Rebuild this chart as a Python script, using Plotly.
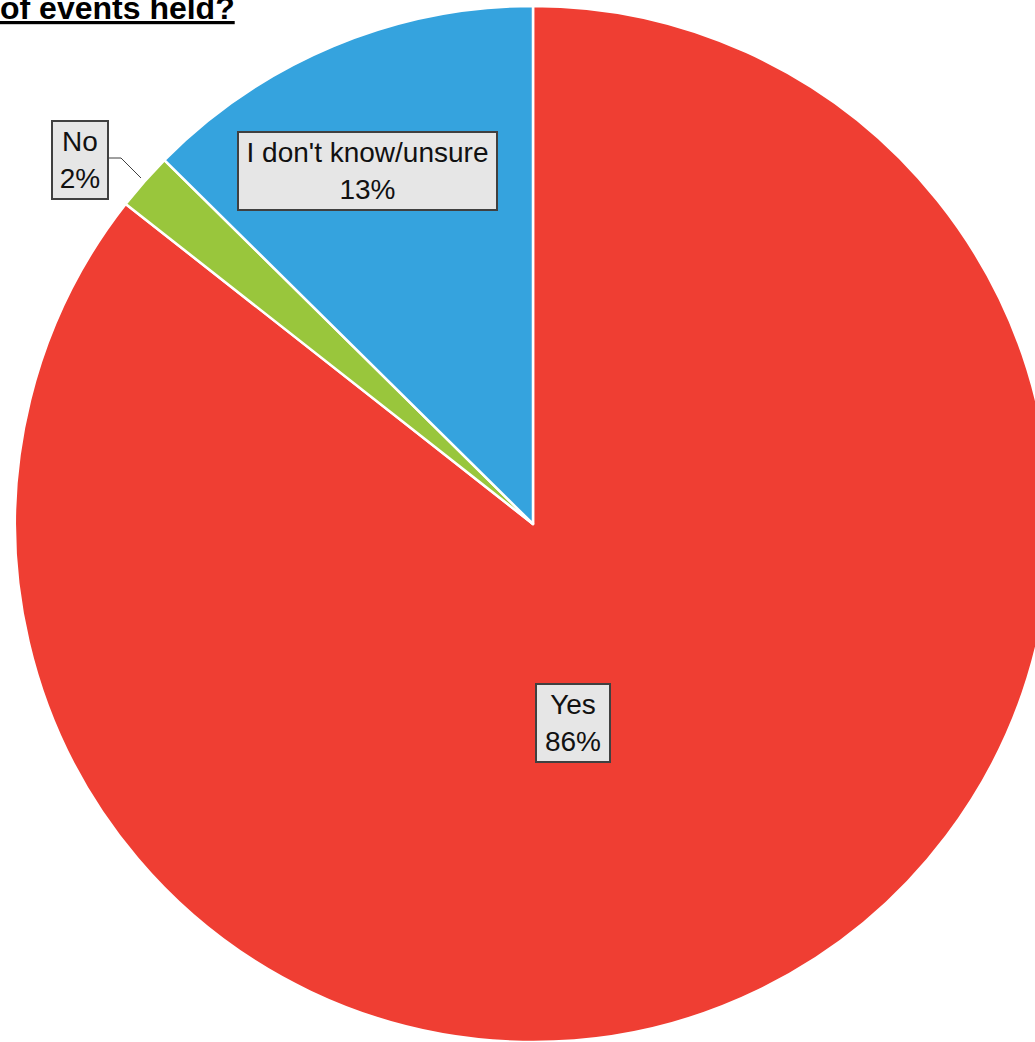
import plotly.graph_objects as go

# Survey responses (share of respondents, %)
labels = ["Yes", "No", "I don't know/unsure"]
values = [85.6, 1.8, 12.6]
colors = ["#EF3E33", "#99C63C", "#35A3DE"]

W, H = 1051, 1042
FONT = "Liberation Sans, Arial, sans-serif"

fig = go.Figure(
    go.Pie(
        labels=labels,
        values=values,
        sort=False,
        direction="clockwise",
        rotation=0,
        marker=dict(colors=colors, line=dict(color="white", width=2.5)),
        textinfo="none",
        hoverinfo="label+percent",
        showlegend=False,
        domain=dict(x=[15 / W, 1], y=[0, 1 - 6 / H]),
    )
)


def px(x, y):
    return x / W, 1 - y / H


total = sum(values)
pct = [round(100 * v / total) for v in values]

# boxed data labels: (centre x, centre y, box width) in pixels
label_boxes = [(573, 723, 76), (79.5, 160, 58), (367, 171, 261)]
for (cx, cy, bw), lab, p in zip(label_boxes, labels, pct):
    ax_, ay_ = px(cx, cy)
    fig.add_annotation(
        x=ax_, y=ay_, xref="paper", yref="paper",
        xanchor="center", yanchor="middle",
        text=f"{lab}<br>{p}%",
        showarrow=False,
        font=dict(family=FONT, size=28, color="#111111"),
        bgcolor="#E6E6E6",
        bordercolor="#404040",
        borderwidth=2,
        borderpad=2,
        width=bw - 8,
        height=72,
        align="center",
    )

# leader line for the small "No" slice
pts = [px(109, 158), px(121, 158), px(141, 178)]
path = "M {} {} L {} {} L {} {}".format(*[c for pt in pts for c in pt])
fig.add_shape(type="path", path=path, xref="paper", yref="paper",
              line=dict(color="#404040", width=1))

# chart title (last line)
fig.add_annotation(
    x=0, y=1, xref="paper", yref="paper", xanchor="left", yanchor="top",
    text="<b><u>of events held?</u></b>", showarrow=False,
    font=dict(family=FONT, size=32, color="black"),
    yshift=12, xshift=-2,
)

fig.update_layout(
    width=W, height=H,
    margin=dict(l=0, r=0, t=0, b=0),
    paper_bgcolor="white",
    plot_bgcolor="white",
)

fig.write_html("out.html")
